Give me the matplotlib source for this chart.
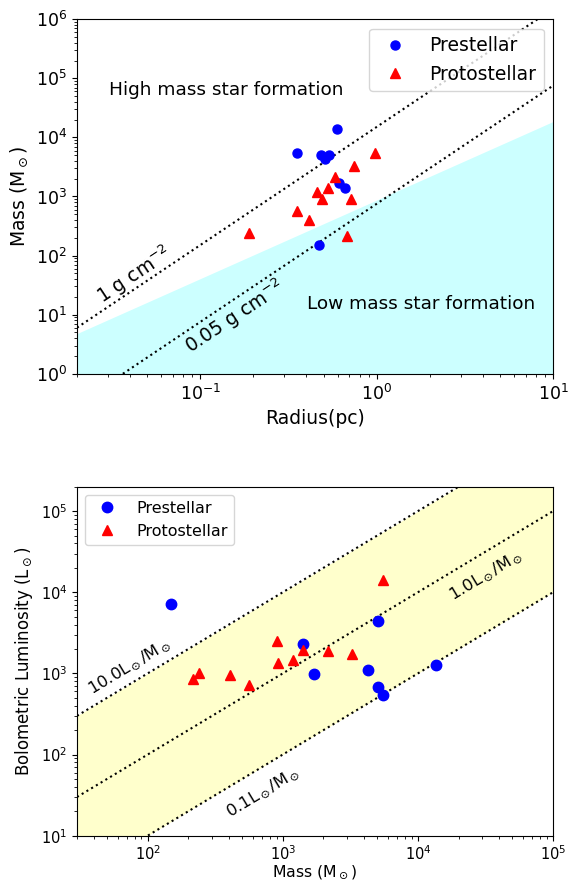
import numpy as np
import matplotlib
matplotlib.use("Agg")
import matplotlib.pyplot as plt

# ---- data ----
pre_radius = [0.469, 0.662, 0.612, 0.482, 0.510, 0.539, 0.354, 0.595]
pre_mass = [150, 1420, 1700, 5050, 4300, 5080, 5550, 13700]
pre_lbol = [7260, 2290, 977, 4400, 1100, 683, 538, 1260]

proto_radius = [0.678, 0.188, 0.413, 0.354, 0.489, 0.718, 0.462, 0.530, 0.581, 0.745, 0.977]
proto_mass = [216, 241, 406, 560, 910, 922, 1190, 1400, 2150, 3250, 5500]
proto_lbol = [863, 1005, 948, 715, 2520, 1361, 1483, 1950, 1893, 1738, 14090]

surface_densities = [1.0, 0.05]          # g cm^-2
lm_ratios = [10.0, 1.0, 0.1]             # Lsun/Msun

PC = 3.086e18
MSUN = 1.989e33

fig = plt.figure(figsize=(5.68, 8.82), dpi=100)

# ---------------- top panel ----------------
ax1 = fig.add_axes([77/568, (882-373.7)/882, 476/568, 354.4/882])
R = np.logspace(np.log10(0.02), 1, 200)
kp = 870 * R**1.33
ax1.fill_between(R, 1e-3, kp, color='cyan', alpha=0.2, lw=0)
for sd in surface_densities:
    ax1.plot(R, sd * np.pi * (R*PC)**2 / MSUN, ':', color='black', lw=1.5)
ax1.plot(pre_radius, pre_mass, 'o', color='blue', ms=6.5, label='Prestellar', ls='none')
ax1.plot(proto_radius, proto_mass, '^', color='red', ms=6.5, label='Protostellar', ls='none')
ax1.set_xscale('log'); ax1.set_yscale('log')
ax1.set_xlim(0.02, 10); ax1.set_ylim(1, 1e6)
ax1.set_xlabel('Radius(pc)', fontsize=13.5)
ax1.set_ylabel(r'Mass (M$_\odot$)', fontsize=13.5)
ax1.tick_params(labelsize=12.5)
ax1.text(0.0303, 6.3e4, 'High mass star formation', fontsize=13.3, ha='left', va='center')
ax1.text(0.405, 15, 'Low mass star formation', fontsize=13.3, ha='left', va='center')
ax1.text(0.042, 46, r'1 g cm$^{-2}$', fontsize=13.5, rotation=33.5, ha='center', va='center')
ax1.text(0.157, 9.1, r'0.05 g cm$^{-2}$', fontsize=13.5, rotation=33.5, ha='center', va='center')
ax1.legend(loc='upper right', fontsize=13.5)

# ---------------- bottom panel ----------------
ax2 = fig.add_axes([77/568, (882-835.7)/882, 476/568, 349/882])
M = np.logspace(np.log10(30), 5, 200)
ax2.fill_between(M, lm_ratios[-1]*M, lm_ratios[0]*M, color='yellow', alpha=0.2, lw=0)
for r in lm_ratios:
    ax2.plot(M, r*M, ':', color='black', lw=1.5)
ax2.plot(pre_mass, pre_lbol, 'o', color='blue', ms=7.5, label='Prestellar', ls='none')
ax2.plot(proto_mass, proto_lbol, '^', color='red', ms=7.5, label='Protostellar', ls='none')
ax2.set_xscale('log'); ax2.set_yscale('log')
ax2.set_xlim(30, 1e5); ax2.set_ylim(10, 2e5)
ax2.set_xlabel(r'Mass (M$_\odot$)', fontsize=11.3, labelpad=0)
ax2.set_ylabel(r'Bolometric Luminosity (L$_\odot$)', fontsize=12)
ax2.tick_params(labelsize=10.5)
ax2.tick_params(axis='x', pad=2.5)
ax2.text(72.6, 1213, r'10.0L$_\odot$/M$_\odot$', fontsize=11.8, rotation=31, ha='center', va='center')
ax2.text(31600, 16400, r'1.0L$_\odot$/M$_\odot$', fontsize=11.8, rotation=31, ha='center', va='center')
ax2.text(711, 34.9, r'0.1L$_\odot$/M$_\odot$', fontsize=11.8, rotation=31, ha='center', va='center')
ax2.legend(loc='upper left', fontsize=11.5)

fig.savefig('out.png', dpi=100)
